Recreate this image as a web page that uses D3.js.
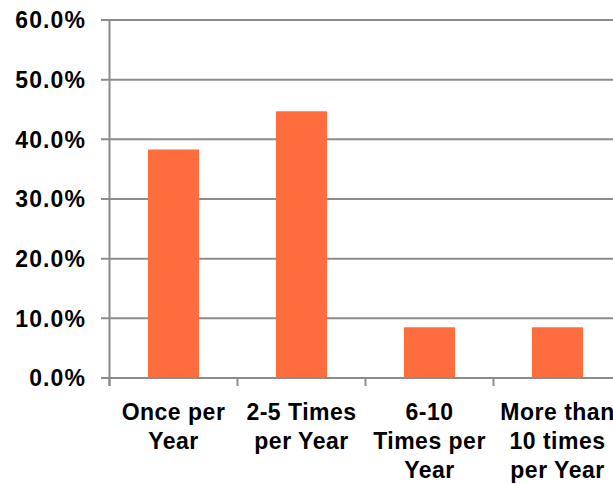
<!DOCTYPE html>
<html>
<head>
<meta charset="utf-8">
<script src="https://cdn.jsdelivr.net/npm/d3@7"></script>
<style>
  html, body { margin: 0; padding: 0; background: #fff; }
  svg { display: block; }
  text { font-family: "Liberation Sans", Arial, sans-serif; font-weight: bold; fill: #000; }
</style>
</head>
<body>
<svg id="chart" width="613" height="484"></svg>
<script>
// Survey: how often respondents do it (share of answers)
const categories = ["Once per Year", "2-5 Times per Year", "6-10 Times per Year", "More than 10 times per Year"];
const shares = [38.3, 44.7, 8.5, 8.5];
const yTicks = [0, 10, 20, 30, 40, 50, 60];

const W = 613, H = 484;
const plotLeft = 109.5, plotTop = 20, plotBottom = 378;
const gridColor = "#8c8c8c";
const barColor = "#ff6c3e";

const svg = d3.select("#chart");

const x = d3.scaleBand()
  .domain(categories)
  .range([plotLeft, plotLeft + 4 * 128])
  .paddingInner(0.6)
  .paddingOuter(0.3);

const y = d3.scaleLinear().domain([0, 60]).range([plotBottom, plotTop]);

// horizontal gridlines with small ticks left of the axis
svg.append("g")
  .selectAll("line")
  .data(yTicks)
  .join("line")
  .attr("x1", plotLeft - 8.5)
  .attr("x2", W)
  .attr("y1", d => y(d))
  .attr("y2", d => y(d))
  .attr("stroke", gridColor)
  .attr("stroke-width", 2);

// y tick labels
svg.append("g")
  .selectAll("text")
  .data(yTicks)
  .join("text")
  .attr("x", 86)
  .attr("y", d => y(d))
  .attr("dy", "0.36em")
  .attr("text-anchor", "end")
  .style("font-size", "23px")
  .style("letter-spacing", "1.1px")
  .text(d => d3.format(".1f")(d) + "%");

// bars
svg.append("g")
  .selectAll("rect")
  .data(shares)
  .join("rect")
  .attr("x", (d, i) => x(categories[i]))
  .attr("width", x.bandwidth())
  .attr("y", d => y(d))
  .attr("height", d => y(0) - y(d))
  .attr("fill", barColor);

// y axis line
svg.append("line")
  .attr("x1", plotLeft).attr("x2", plotLeft)
  .attr("y1", plotTop).attr("y2", plotBottom + 8)
  .attr("stroke", gridColor).attr("stroke-width", 2);

// x axis line and category boundary ticks
svg.append("line")
  .attr("x1", plotLeft).attr("x2", W)
  .attr("y1", plotBottom).attr("y2", plotBottom)
  .attr("stroke", gridColor).attr("stroke-width", 2);

const boundaries = categories.map(c => x(c) - x.step() * 0.3);
svg.append("g")
  .selectAll("line")
  .data(boundaries)
  .join("line")
  .attr("x1", d => d).attr("x2", d => d)
  .attr("y1", plotBottom).attr("y2", plotBottom + 8)
  .attr("stroke", gridColor).attr("stroke-width", 2);

// category labels, wrapped to fit under each bar slot
const labels = svg.append("g")
  .selectAll("text")
  .data(categories)
  .join("text")
  .attr("x", d => x(d) + x.bandwidth() / 2)
  .attr("y", 420)
  .attr("text-anchor", "middle")
  .style("font-size", "23px")
  .style("letter-spacing", "0.5px");

labels.each(function(d) {
  const t = d3.select(this);
  const cx = +t.attr("x");
  const words = d.split(" ");
  const lines = [];
  let line = [];
  const probe = t.append("tspan");
  for (const w of words) {
    const test = line.concat(w).join(" ");
    probe.text(test);
    if (probe.node().getComputedTextLength() > 116 && line.length) {
      lines.push(line.join(" "));
      line = [w];
    } else {
      line.push(w);
    }
  }
  lines.push(line.join(" "));
  probe.remove();
  lines.forEach((l, i) => {
    t.append("tspan").attr("x", cx).attr("dy", i ? 29 : 0).text(l);
  });
});
</script>
</body>
</html>
